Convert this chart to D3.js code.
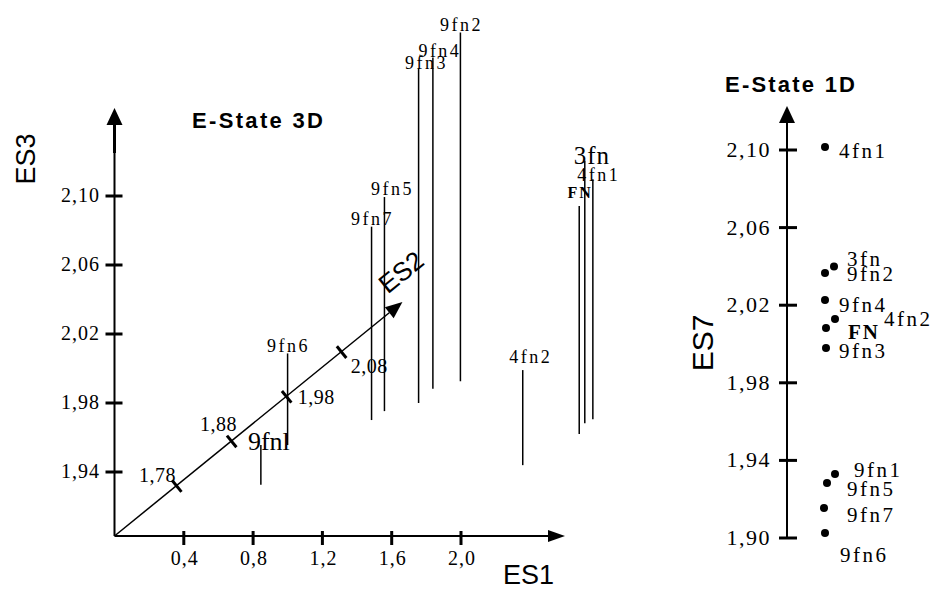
<!DOCTYPE html>
<html>
<head>
<meta charset="utf-8">
<script src="https://cdn.jsdelivr.net/npm/d3@7"></script>
<style>
  html, body { margin: 0; padding: 0; background: #fff; }
  svg { display: block; }
  .serif { font-family: "Liberation Serif", "Times New Roman", serif; fill: #000; }
  .sans { font-family: "Liberation Sans", Arial, sans-serif; fill: #000; }
</style>
</head>
<body>
<svg id="chart" width="936" height="589"></svg>
<script>
// ---------------- DATA ----------------
// 3D E-State plot (ES1, ES2, ES3)
const compounds3D = ["9fn1", "9fn2", "9fn3", "9fn4", "9fn5", "9fn6", "9fn7", "4fn2", "FN", "3fn", "4fn1"];
const es1Values   = [0.481, 0.897, 0.811, 0.792, 0.671, 0.353, 0.660, 1.853, 1.957, 1.913, 1.931];
const es2Values   = [1.782, 2.014, 1.965, 1.997, 1.947, 1.871, 1.927, 1.826, 1.896, 1.920, 1.929];
const es3Values   = [1.926, 2.105, 2.097, 2.095, 2.027, 1.956, 2.015, 1.958, 2.035, 2.055, 2.042];

// 1D E-State plot (ES7)
const compounds1D = ["4fn1", "3fn", "9fn2", "9fn4", "4fn2", "FN", "9fn3", "9fn1", "9fn5", "9fn7", "9fn6"];
const es7Values   = [2.1015, 2.040, 2.0366, 2.0227, 2.0129, 2.0083, 1.998, 1.933, 1.9284, 1.9155, 1.9026];

// tick values
const es1Ticks = [0.4, 0.8, 1.2, 1.6, 2.0];
const es2Ticks = [1.78, 1.88, 1.98, 2.08];
const es3Ticks = [1.94, 1.98, 2.02, 2.06, 2.10];
const es7Ticks = [1.90, 1.94, 1.98, 2.02, 2.06, 2.10];

// ---------------- LAYOUT (label nudges, not data) ----------------
const label3D = {
  "9fn1": {dx: 8, dy: 5, size: 26, ls: 0},
  "9fn2": {dx: 1, dy: -2, size: 18, ls: 2.5},
  "9fn3": {dx: 8, dy: 1, size: 18, ls: 2.5},
  "9fn4": {dx: 7, dy: 0, size: 18, ls: 2.5},
  "9fn5": {dx: 8, dy: -2, size: 18, ls: 2.5},
  "9fn6": {dx: 1, dy: -1, size: 18, ls: 2.5},
  "9fn7": {dx: 1, dy: -2, size: 18, ls: 2.5},
  "4fn2": {dx: 8, dy: -7, size: 18, ls: 2.5},
  "FN":   {dx: 1, dy: -8, size: 16, ls: 2, bold: true},
  "3fn":  {dx: 7, dy: 3, size: 25, ls: 1},
  "4fn1": {dx: 6, dy: 2, size: 18, ls: 2.5}
};
const label1D = {
  "4fn1": {jx: 825, lx: 839, ly: 151},
  "3fn":  {jx: 834, lx: 847, ly: 259},
  "9fn2": {jx: 825, lx: 847, ly: 274},
  "9fn4": {jx: 825, lx: 839, ly: 305},
  "4fn2": {jx: 835, lx: 884, ly: 319},
  "FN":   {jx: 826, lx: 848, ly: 332, bold: true},
  "9fn3": {jx: 826, lx: 839, ly: 351},
  "9fn1": {jx: 835, lx: 854, ly: 470},
  "9fn5": {jx: 827, lx: 847, ly: 489},
  "9fn7": {jx: 824, lx: 847, ly: 515},
  "9fn6": {jx: 825, lx: 840, ly: 555}
};

const svg = d3.select("#chart");
const comma = (f) => (v) => d3.format(f)(v).replace(".", ",");

// ---------------- 3D PLOT ----------------
const O = [114.5, 536];
const xS = d3.scaleLinear().domain([0, 2.0]).range([O[0], 461]);
const zS = d3.scaleLinear().domain([1.94, 2.10]).range([472, 196]);
const aS = d3.scaleLinear().domain([1.78, 2.08]).range([79.8, 292.2]); // distance along ES2 axis
const ang = Math.atan2(234, 288);
const u = [Math.cos(ang), -Math.sin(ang)];
const n = [Math.sin(ang), Math.cos(ang)];

const g3 = svg.append("g");

// ES3 axis (vertical)
g3.append("line").attr("x1", O[0]).attr("y1", O[1]).attr("x2", O[0]).attr("y2", 122)
  .attr("stroke", "#000").attr("stroke-width", 2);
g3.append("line").attr("x1", O[0]).attr("y1", 153).attr("x2", O[0]).attr("y2", 122)
  .attr("stroke", "#000").attr("stroke-width", 3);
g3.append("path").attr("d", `M${O[0]},108 L${O[0] - 8},125 L${O[0] + 8},125 Z`).attr("fill", "#000");

g3.selectAll(".es3tick").data(es3Ticks).join("line")
  .attr("x1", O[0] - 9).attr("x2", O[0] + 8)
  .attr("y1", d => zS(d)).attr("y2", d => zS(d))
  .attr("stroke", "#000").attr("stroke-width", 3);
g3.selectAll(".es3lab").data(es3Ticks).join("text")
  .attr("class", "serif").attr("x", 100).attr("y", d => zS(d) + 6)
  .attr("text-anchor", "end").attr("font-size", 20).attr("letter-spacing", 1)
  .text(comma(".2f"));

// ES1 axis (horizontal)
g3.append("line").attr("x1", O[0]).attr("y1", O[1]).attr("x2", 552).attr("y2", O[1])
  .attr("stroke", "#000").attr("stroke-width", 2);
g3.append("path").attr("d", `M565,${O[1]} L548,${O[1] - 6} L548,${O[1] + 6} Z`).attr("fill", "#000");
g3.selectAll(".es1tick").data(es1Ticks).join("line")
  .attr("x1", d => xS(d)).attr("x2", d => xS(d))
  .attr("y1", O[1] - 5).attr("y2", O[1] + 9)
  .attr("stroke", "#000").attr("stroke-width", 3);
g3.selectAll(".es1lab").data(es1Ticks).join("text")
  .attr("class", "serif").attr("x", d => xS(d) + 1).attr("y", O[1] + 29)
  .attr("text-anchor", "middle").attr("font-size", 20).attr("letter-spacing", 1)
  .text(comma(".1f"));

// ES2 axis (oblique)
const aLen = 371;
const tip = [O[0] + u[0] * aLen, O[1] + u[1] * aLen];
const aBase = [O[0] + u[0] * (aLen - 17), O[1] + u[1] * (aLen - 17)];
g3.append("line").attr("x1", O[0]).attr("y1", O[1]).attr("x2", aBase[0]).attr("y2", aBase[1])
  .attr("stroke", "#000").attr("stroke-width", 1.5);
g3.append("path").attr("d",
  `M${tip[0]},${tip[1]} L${aBase[0] + n[0] * 7},${aBase[1] + n[1] * 7} L${aBase[0] - n[0] * 7},${aBase[1] - n[1] * 7} Z`)
  .attr("fill", "#000");
g3.selectAll(".es2tick").data(es2Ticks).join("line")
  .attr("x1", d => O[0] + u[0] * aS(d) - n[0] * 7)
  .attr("y1", d => O[1] + u[1] * aS(d) - n[1] * 7)
  .attr("x2", d => O[0] + u[0] * aS(d) + n[0] * 8)
  .attr("y2", d => O[1] + u[1] * aS(d) + n[1] * 8)
  .attr("stroke", "#000").attr("stroke-width", 3);
const es2LabNudge = [[-19, -4], [-13, -10], [30, 8], [28, 21]];
g3.selectAll(".es2lab").data(es2Ticks).join("text")
  .attr("class", "serif")
  .attr("x", (d, i) => O[0] + u[0] * aS(d) + es2LabNudge[i][0])
  .attr("y", (d, i) => O[1] + u[1] * aS(d) + es2LabNudge[i][1])
  .attr("text-anchor", "middle").attr("font-size", 20).attr("letter-spacing", 0.5)
  .text(comma(".2f"));

// axis titles
g3.append("text").attr("class", "sans").attr("transform", "translate(35,159) rotate(-90)")
  .attr("text-anchor", "middle").attr("font-size", 27).text("ES3");
g3.append("text").attr("class", "sans").attr("x", 503).attr("y", 584)
  .attr("font-size", 27).text("ES1");
g3.append("text").attr("class", "sans")
  .attr("transform", `translate(401,272) rotate(${-ang * 180 / Math.PI})`)
  .attr("text-anchor", "middle").attr("dy", "0.35em").attr("font-size", 26).text("ES2");
g3.append("text").attr("class", "sans").attr("x", 192).attr("y", 128)
  .attr("font-size", 22).attr("font-weight", "bold").attr("textLength", 131)
  .text("E-State 3D");

// spikes
const pts3D = compounds3D.map((c, i) => {
  const bx = xS(es1Values[i]) + u[0] * aS(es2Values[i]);
  const by = O[1] + u[1] * aS(es2Values[i]);
  const ty = by - (O[1] - zS(es3Values[i]));
  return {name: c, bx, by, ty};
});
g3.selectAll(".spike").data(pts3D).join("line")
  .attr("x1", d => d.bx).attr("x2", d => d.bx)
  .attr("y1", d => d.by).attr("y2", d => d.ty)
  .attr("stroke", "#000").attr("stroke-width", 1.5);
g3.selectAll(".spikelab").data(pts3D).join("text")
  .attr("class", "serif")
  .attr("x", d => d.bx + label3D[d.name].dx)
  .attr("y", d => d.ty + label3D[d.name].dy)
  .attr("text-anchor", "middle")
  .attr("font-size", d => label3D[d.name].size)
  .attr("letter-spacing", d => label3D[d.name].ls)
  .attr("font-weight", d => label3D[d.name].bold ? "bold" : "normal")
  .text(d => d.name === "9fn1" ? "9fnl" : d.name);

// ---------------- 1D PLOT ----------------
const g1 = svg.append("g");
const AX = 787;
const yS = d3.scaleLinear().domain([1.90, 2.10]).range([538, 150]);
g1.append("line").attr("x1", AX).attr("x2", AX).attr("y1", yS(1.90)).attr("y2", 121)
  .attr("stroke", "#000").attr("stroke-width", 2);
g1.append("path").attr("d", `M${AX},106 L${AX - 8},123 L${AX + 8},123 Z`).attr("fill", "#000");
g1.selectAll(".es7tick").data(es7Ticks).join("line")
  .attr("x1", AX - 8).attr("x2", AX + 10)
  .attr("y1", d => yS(d)).attr("y2", d => yS(d))
  .attr("stroke", "#000").attr("stroke-width", 3);
g1.selectAll(".es7lab").data(es7Ticks).join("text")
  .attr("class", "serif").attr("x", 771).attr("y", d => yS(d) + 7)
  .attr("text-anchor", "end").attr("font-size", 22).attr("letter-spacing", 1.5)
  .text(comma(".2f"));

g1.append("text").attr("class", "sans").attr("transform", "translate(713,343) rotate(-90)")
  .attr("text-anchor", "middle").attr("font-size", 30).text("ES7");
g1.append("text").attr("class", "sans").attr("x", 725).attr("y", 92)
  .attr("font-size", 22).attr("font-weight", "bold").attr("textLength", 130)
  .text("E-State 1D");

const pts1D = compounds1D.map((c, i) => ({name: c, v: es7Values[i]}));
g1.selectAll(".dot").data(pts1D).join("circle")
  .attr("cx", d => label1D[d.name].jx).attr("cy", d => yS(d.v)).attr("r", 4)
  .attr("fill", "#000");
g1.selectAll(".dotlab").data(pts1D).join("text")
  .attr("class", "serif")
  .attr("x", d => label1D[d.name].lx).attr("y", d => label1D[d.name].ly + 7)
  .attr("font-size", 21)
  .attr("letter-spacing", d => label1D[d.name].bold ? 2 : 2.5)
  .attr("font-weight", d => label1D[d.name].bold ? "bold" : "normal")
  .text(d => d.name);
</script>
</body>
</html>
